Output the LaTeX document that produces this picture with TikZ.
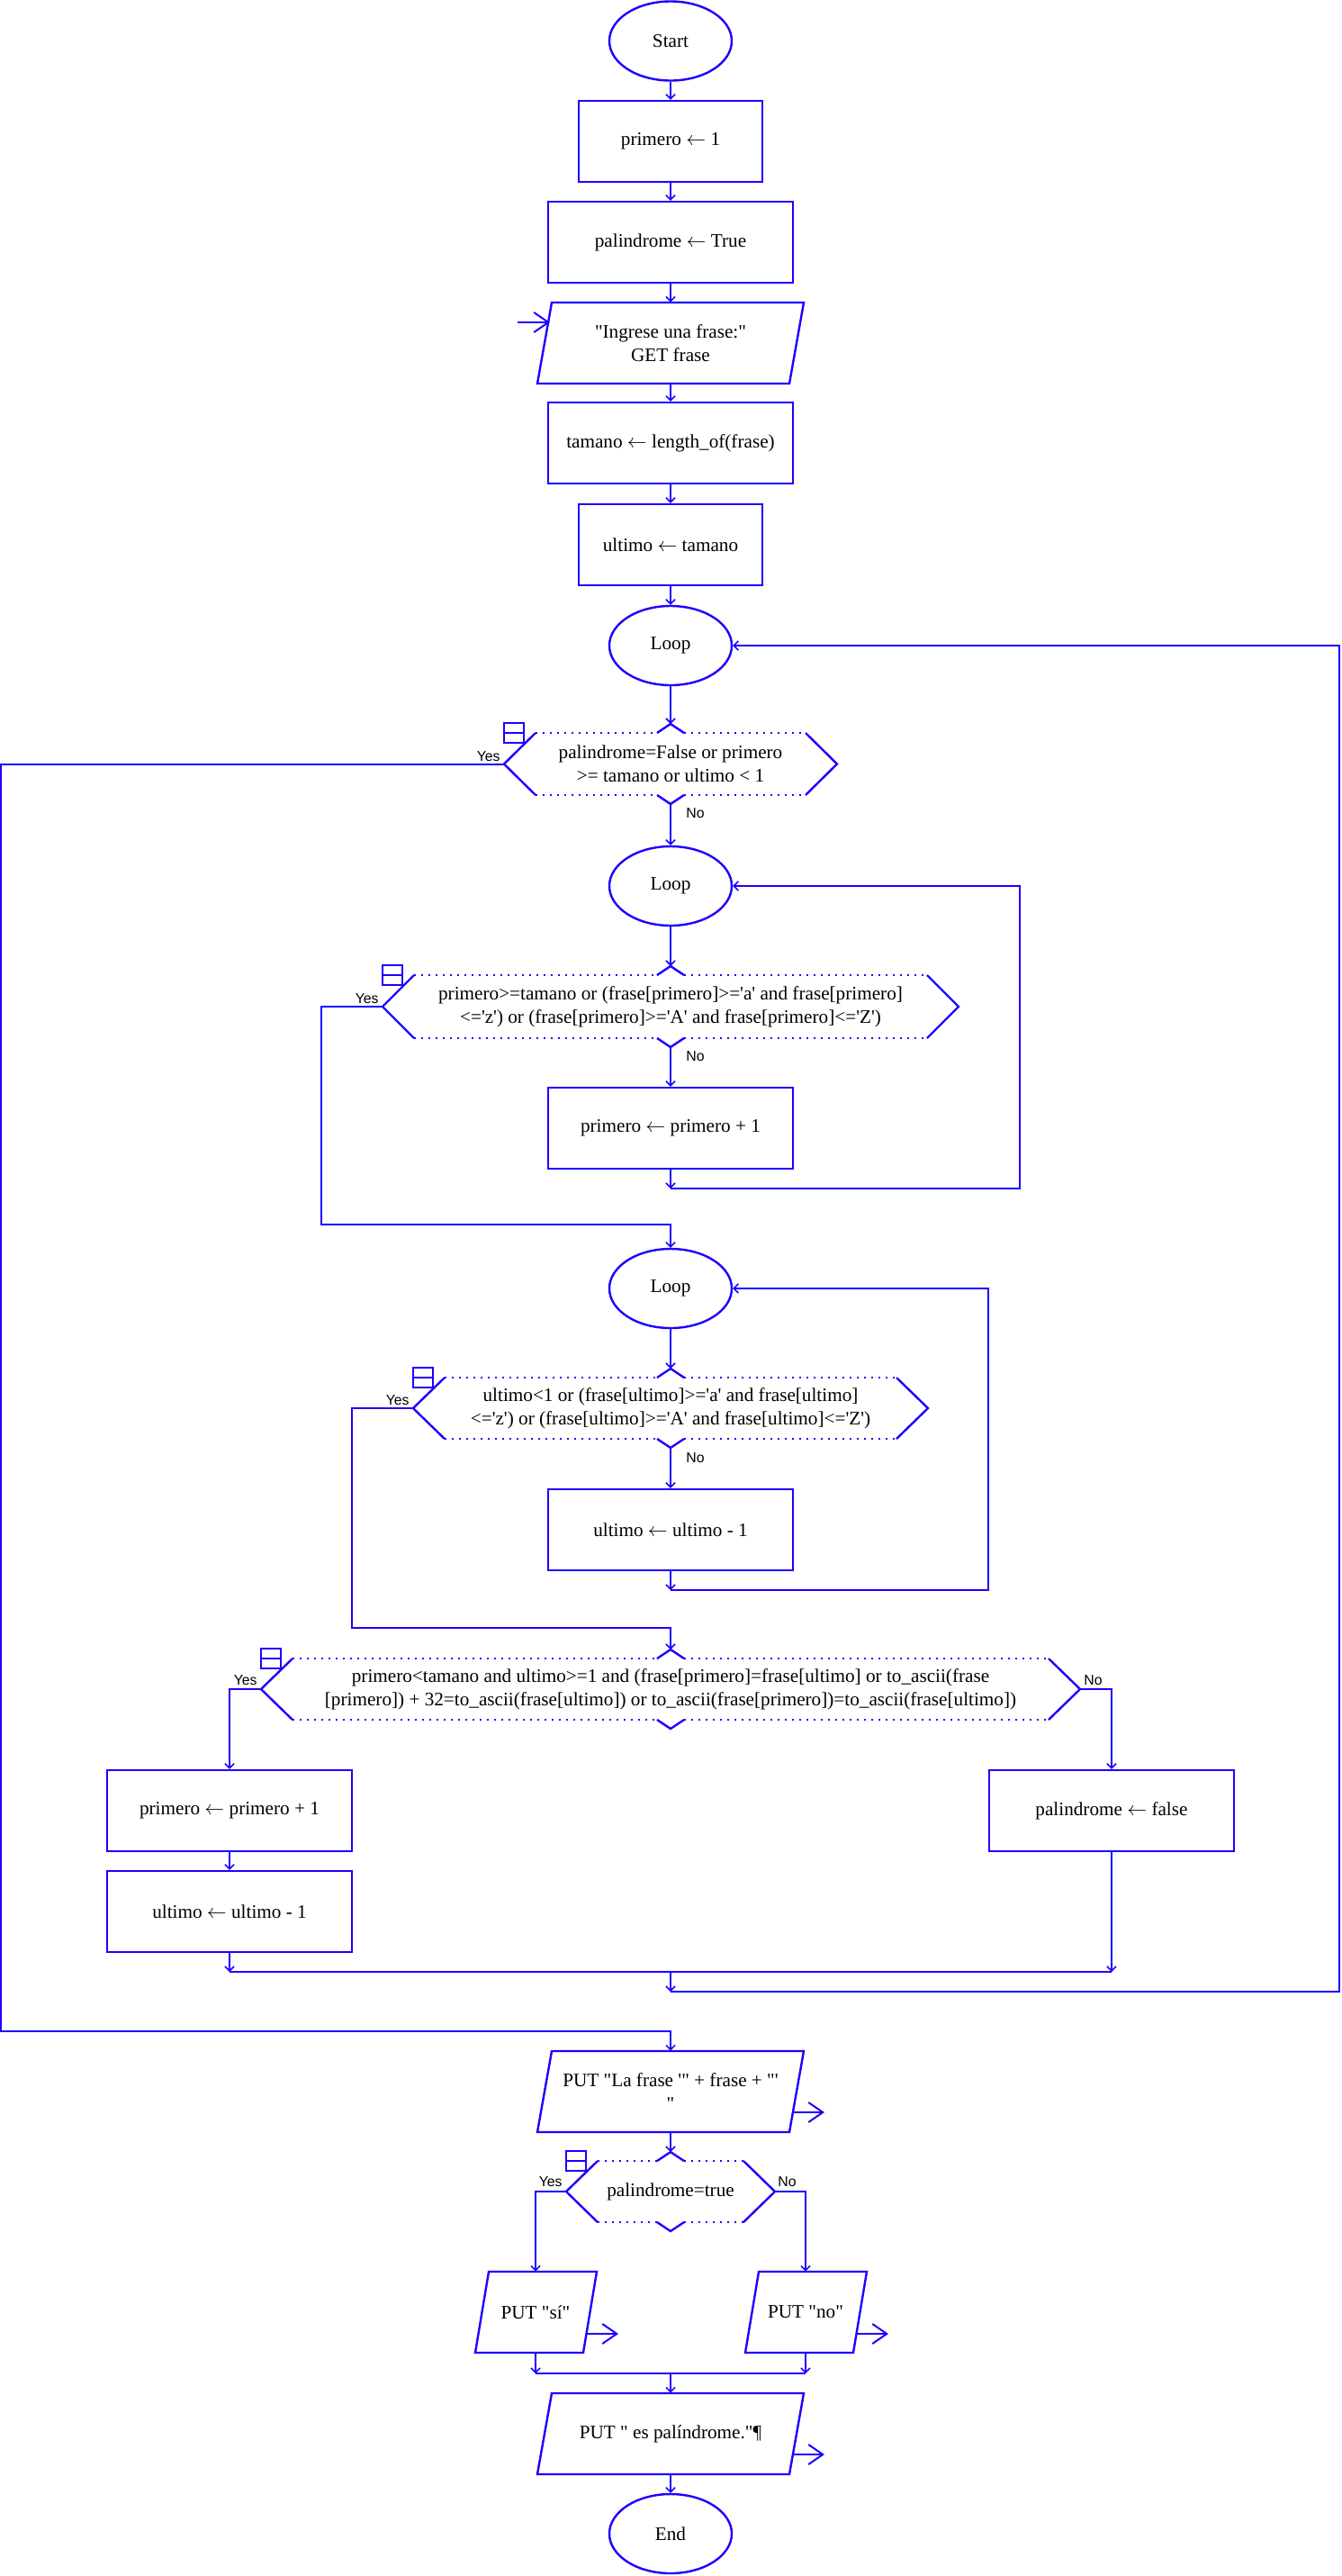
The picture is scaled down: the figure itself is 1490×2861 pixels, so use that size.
\documentclass[tikz,border=0pt]{standalone}
\usepackage{fontspec}
\setmainfont{Liberation Serif}[Ligatures=TeXOff]
\newfontfamily\lblfont{Liberation Sans}
\usetikzlibrary{arrows.meta,shapes.geometric}
\definecolor{fc}{RGB}{30,0,255}
\newcommand\larr{\ensuremath{\leftarrow}}
% decision: name, cx, cy, half width, half height, text
\newcommand\decision[6]{%
  \node[txt] (#1) at (#2,#3) {#6};
  \coordinate (#1-w) at (#2-#4,#3);
  \coordinate (#1-e) at (#2+#4,#3);
  \coordinate (#1-n) at (#2,#3-#5-10);
  \coordinate (#1-s) at (#2,#3+#5+10);
  \draw[shp] (#2-#4+35,#3-#5) -- (#2-#4,#3) -- (#2-#4+35,#3+#5);
  \draw[shp] (#2+#4-35,#3-#5) -- (#2+#4,#3) -- (#2+#4-35,#3+#5);
  \draw[dotl] (#2-#4+35,#3-#5) -- (#2-15,#3-#5);
  \draw[dotl] (#2+15,#3-#5) -- (#2+#4-35,#3-#5);
  \draw[dotl] (#2-#4+35,#3+#5) -- (#2-15,#3+#5);
  \draw[dotl] (#2+15,#3+#5) -- (#2+#4-35,#3+#5);
  \draw[shp] (#2-15,#3-#5) -- (#2,#3-#5-10) -- (#2+15,#3-#5);
  \draw[shp] (#2-15,#3+#5) -- (#2,#3+#5+10) -- (#2+15,#3+#5);
  \draw[shp] (#2-#4,#3-#5-11) rectangle (#2-#4+22,#3-#5+11);
  \draw[shp] (#2-#4,#3-#5) -- (#2-#4+22,#3-#5);
}
% parallelogram: cx, cy, half width, half height, half slant
\newcommand\paral[5]{%
  \draw[shp] (#1-#3+#5,#2-#4) -- (#1+#3+#5,#2-#4) -- (#1+#3-#5,#2+#4) -- (#1-#3-#5,#2+#4) -- cycle;}
\begin{document}
\begin{tikzpicture}[x=0.5pt,y=-0.5pt,
  shp/.style={draw=fc,line width=1.2pt},
  dotl/.style={draw=fc,line width=1.1pt,dash pattern=on 1pt off 3pt},
  ln/.style={draw=fc,line width=1pt},
  con/.style={ln,-{Straight Barb[length=2.5pt,width=5pt,line width=0.8pt]}},
  io/.style={ln,-{Straight Barb[length=8pt,width=11pt,line width=1pt]}},
  txt/.style={font=\fontsize{10.6}{13}\selectfont,align=center,inner sep=0pt,text=black},
  box/.style={txt,shp,rectangle,minimum height=45pt},
  ell/.style={txt,shp,ellipse,minimum width=68pt,minimum height=44pt},
  lbl/.style={font=\lblfont\fontsize{7.9}{9}\selectfont,inner sep=0pt,text=black},
]
\fill[white] (0,0) rectangle (1490,2861);
\useasboundingbox (0,0) rectangle (1490,2861);

% ---- top sequence
\node[ell] (start) at (745,45.5) {Start};
\node[box,minimum width=102pt] (b1) at (745,157) {primero \larr{} 1};
\node[box,minimum width=136pt] (b2) at (745,269) {palindrome \larr{} True};
\paral{745}{381}{140}{45}{8}
\node[txt,minimum height=45pt] (in1) at (745,381) {"Ingrese una frase:"\\GET frase};
\node[box,minimum width=136pt] (b3) at (745,492) {tamano \larr{} length\_of(frase)};
\node[box,minimum width=102pt] (b4) at (745,605) {ultimo \larr{} tamano};
\node[ell] (loop1) at (745,717) {Loop};
\coordinate (inA) at (575,358);
\coordinate (inB) at (611,358);
\draw[io] (inA) -- (inB);

\draw[con] (start) -- (b1);
\draw[con] (b1) -- (b2);
\draw[con] (b2) -- (in1);
\draw[con] (in1) -- (b3);
\draw[con] (b3) -- (b4);
\draw[con] (b4) -- (loop1);

% ---- decision 1
\decision{dec1}{745}{848.5}{185}{34.5}{palindrome=False or primero\\>= tamano or ultimo < 1}
\draw[con] (loop1) -- (dec1-n);
\node[lbl,anchor=south east] (y1) at (556,846) {Yes};
\node[lbl,anchor=west] (n1) at (762,903) {No};

% ---- inner loop 2
\node[ell] (loop2) at (745,984) {Loop};
\draw[con] (dec1-s) -- (loop2);
\decision{dec2}{745}{1118}{320}{35}{primero>=tamano or (frase[primero]>='a' and frase[primero]\\<='z') or (frase[primero]>='A' and frase[primero]<='Z')}
\draw[con] (loop2) -- (dec2-n);
\node[lbl,anchor=south east] (y2) at (421,1115) {Yes};
\node[lbl,anchor=west] (n2) at (762,1173) {No};
\node[box,minimum width=136pt] (b5) at (745,1253) {primero \larr{} primero + 1};
\draw[con] (dec2-s) -- (b5);
\coordinate (j2) at (745,1320);
\coordinate (c2a) at (1133,1320);
\coordinate (c2b) at (1133,984);
\draw[con] (b5) -- (j2);
\draw[con] (j2) -- (c2a) -- (c2b) -- (loop2);

% ---- inner loop 3
\node[ell] (loop3) at (745,1431) {Loop};
\coordinate (y2a) at (357,1118);
\coordinate (y2b) at (745,1360);
\draw[con] (dec2-w) -- (y2a) |- (y2b) -- (loop3);
\decision{dec3}{745}{1564}{286}{34}{ultimo<1 or (frase[ultimo]>='a' and frase[ultimo]\\<='z') or (frase[ultimo]>='A' and frase[ultimo]<='Z')}
\draw[con] (loop3) -- (dec3-n);
\node[lbl,anchor=south east] (y3) at (455,1561) {Yes};
\node[lbl,anchor=west] (n3) at (762,1619) {No};
\node[box,minimum width=136pt] (b6) at (745,1699) {ultimo \larr{} ultimo - 1};
\draw[con] (dec3-s) -- (b6);
\coordinate (j3) at (745,1766);
\coordinate (c3a) at (1098,1766);
\coordinate (c3b) at (1098,1431);
\draw[con] (b6) -- (j3);
\draw[con] (j3) -- (c3a) -- (c3b) -- (loop3);

% ---- decision 4
\decision{dec4}{745}{1876}{455}{34}{primero<tamano and ultimo>=1 and (frase[primero]=frase[ultimo] or to\_ascii(frase\\{}[primero]) + 32=to\_ascii(frase[ultimo]) or to\_ascii(frase[primero])=to\_ascii(frase[ultimo])}
\coordinate (y3a) at (391,1564);
\coordinate (y3b) at (745,1808);
\draw[con] (dec3-w) -- (y3a) |- (y3b) -- (dec4-n);
\node[lbl,anchor=south east] (y4) at (286,1872) {Yes};
\node[lbl,anchor=south west] (n4) at (1204,1872) {No};
\node[box,minimum width=136pt] (b7) at (255,2011) {primero \larr{} primero + 1};
\node[box,minimum width=136pt] (b8) at (255,2123) {ultimo \larr{} ultimo - 1};
\node[box,minimum width=136pt] (b9) at (1235,2011) {palindrome \larr{} false};
\coordinate (y4a) at (255,1876);
\coordinate (n4a) at (1235,1876);
\draw[con] (dec4-w) -- (y4a) -- (b7);
\draw[con] (b7) -- (b8);
\draw[con] (dec4-e) -- (n4a) -- (b9);
\coordinate (j4a) at (255,2190);
\coordinate (j4b) at (1235,2190);
\coordinate (j4m) at (745,2190);
\coordinate (j1) at (745,2212);
\coordinate (c1a) at (1488,2212);
\coordinate (c1b) at (1488,717);
\draw[con] (b8) -- (j4a);
\draw[con] (b9) -- (j4b);
\draw[ln] (j4a) -- (j4b);
\draw[con] (j4m) -- (j1);
\draw[con] (j1) -- (c1a) -- (c1b) -- (loop1);

% ---- exit of main loop
\paral{745}{2323}{140}{45}{8}
\node[txt,minimum height=45pt] (out1) at (745,2323) {PUT "La frase '" + frase + "'\\"};
\coordinate (y1a) at (1,848.5);
\coordinate (y1b) at (745,2256);
\draw[con] (dec1-w) -- (y1a) |- (y1b) -- (out1);
\coordinate (o1a) at (881,2346);
\coordinate (o1b) at (916,2346);
\draw[io] (o1a) -- (o1b);

% ---- decision 5
\decision{dec5}{745}{2434}{116}{34}{palindrome=true}
\draw[con] (out1) -- (dec5-n);
\node[lbl,anchor=south east] (y5) at (625,2429) {Yes};
\node[lbl,anchor=south west] (n5) at (864,2429) {No};
\paral{595.5}{2568}{60}{45}{7.5}
\node[txt,minimum height=45pt] (out2) at (595,2568) {PUT "sí"};
\paral{895.5}{2568}{60}{45}{7.5}
\node[txt,minimum height=45pt] (out3) at (895,2568) {PUT "no"};
\coordinate (y5a) at (595,2434);
\coordinate (n5a) at (895,2434);
\draw[con] (dec5-w) -- (y5a) -- (out2);
\draw[con] (dec5-e) -- (n5a) -- (out3);
\coordinate (o2a) at (651,2592);
\coordinate (o2b) at (687,2592);
\coordinate (o3a) at (951,2592);
\coordinate (o3b) at (987,2592);
\draw[io] (o2a) -- (o2b);
\draw[io] (o3a) -- (o3b);
\coordinate (j5a) at (595,2636);
\coordinate (j5b) at (895,2636);
\coordinate (j5m) at (745,2636);
\draw[con] (out2) -- (j5a);
\draw[con] (out3) -- (j5b);
\draw[ln] (j5a) -- (j5b);

% ---- final output and end
\paral{745}{2703}{140}{45}{8}
\node[txt,minimum height=45pt] (out4) at (745,2703) {PUT " es palíndrome."¶};
\draw[con] (j5m) -- (out4);
\coordinate (o4a) at (880,2726);
\coordinate (o4b) at (916,2726);
\draw[io] (o4a) -- (o4b);
\node[ell] (end) at (745,2814) {End};
\draw[con] (out4) -- (end);
\end{tikzpicture}
\end{document}
